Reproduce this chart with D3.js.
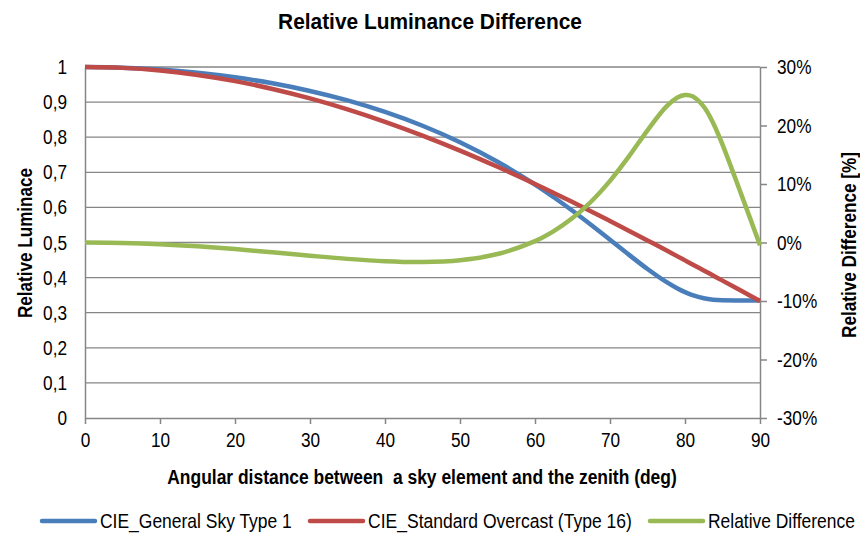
<!DOCTYPE html>
<html><head><meta charset="utf-8">
<script src="https://cdn.jsdelivr.net/npm/d3@7"></script>
<style>
body{margin:0;background:#fff;}
text{font-family:"Liberation Sans",Arial,sans-serif;fill:#000;}
</style></head><body>
<svg id="c" width="860" height="536"></svg>
<script>
const angles = [0,5,10,15,20,25,30,35,40,45,50,55,60,62.5,65,67.5,70,72.5,75,77.5,79,80,81,82.5,83.75,85,87.5,90];
const generalSky = [1,0.9982,0.9929,0.9838,0.9708,0.9536,0.9317,0.9048,0.8720,0.8326,0.7857,0.7301,0.6652,0.6290,0.5905,0.5499,0.5079,0.4655,0.4245,0.3876,0.3690,0.3586,0.3501,0.3411,0.3370,0.3353,0.3349,0.3349];
const overcast = [1,0.9975,0.9899,0.9773,0.9598,0.9375,0.9107,0.8794,0.8440,0.8047,0.7619,0.7157,0.6667,0.6412,0.6151,0.5885,0.5613,0.5338,0.5059,0.4776,0.4605,0.4491,0.4376,0.4204,0.4059,0.3914,0.3624,0.3333];
const relDiff = [0,-0.08,-0.30,-0.66,-1.13,-1.68,-2.26,-2.80,-3.20,-3.34,-3.03,-1.97,0.23,1.94,4.17,7.01,10.53,14.68,19.18,23.22,24.80,25.22,24.99,23.22,20.44,16.74,8.23,-0.46];
const xTicks = [0,10,20,30,40,50,60,70,80,90];
const yTicks = [0,0.1,0.2,0.3,0.4,0.5,0.6,0.7,0.8,0.9,1];
const y2Ticks = [-30,-20,-10,0,10,20,30];
const seriesNames = ["CIE_General Sky Type 1","CIE_Standard Overcast (Type 16)","Relative Difference"];
const colors = ["#4A7EBB","#BE4B48","#98B954"];

const svg = d3.select("#c");
const L=85,R=760,T=67,B=418;
const x = d3.scaleLinear().domain([0,90]).range([L,R]);
const y = d3.scaleLinear().domain([0,1]).range([B,T]);
const y2 = d3.scaleLinear().domain([-30,30]).range([B,T]);
const grid="#868686";
const FS=20.5, NARROW=0.84;
function narrow(sel, factor){
  sel.each(function(){
    const w=this.getComputedTextLength();
    d3.select(this).attr("textLength",w*factor).attr("lengthAdjust","spacingAndGlyphs");
  });
}
function fit(sel, target){
  sel.attr("textLength",target).attr("lengthAdjust","spacingAndGlyphs");
}

// gridlines
svg.append("g").selectAll("line").data(yTicks.slice(1)).join("line")
  .attr("x1",L).attr("x2",R).attr("y1",d=>y(d)).attr("y2",d=>y(d))
  .attr("stroke",grid).attr("stroke-width",1.3);

// x axis
const gx = svg.append("g").attr("transform",`translate(0,${B})`)
  .call(d3.axisBottom(x).tickValues(xTicks).tickSize(6).tickSizeOuter(0).tickPadding(6));
// left axis
const fmtL = d=> d3.format(".1f")(d).replace(".",",").replace(/^1,0$/,"1").replace(/^0,0$/,"0");
const gy = svg.append("g").attr("transform",`translate(${L},0)`)
  .call(d3.axisLeft(y).tickValues(yTicks).tickSize(0).tickPadding(18).tickFormat(fmtL));
// right axis
const gy2 = svg.append("g").attr("transform",`translate(${R},0)`)
  .call(d3.axisRight(y2).tickValues(y2Ticks).tickSize(7).tickSizeOuter(0).tickPadding(10).tickFormat(d=>d+"%"));
[gx,gy,gy2].forEach(g=>{
  g.selectAll("path.domain").attr("stroke",grid).attr("stroke-width",1.5);
  g.selectAll(".tick line").attr("stroke",grid).attr("stroke-width",1.5);
  g.selectAll("text").attr("font-size",FS).attr("fill","#000")
   .style("font-family",'"Liberation Sans",Arial,sans-serif');
  narrow(g.selectAll("text"),NARROW);
});
gx.selectAll("text").attr("dy","0.85em");

// lines
const pts = vals => angles.map((a,i)=>[a,vals[i]]);
const line1 = d3.line().x(d=>x(d[0])).y(d=>y(d[1])).curve(d3.curveCatmullRom.alpha(0.5));
const line2 = d3.line().x(d=>x(d[0])).y(d=>y2(d[1])).curve(d3.curveCatmullRom.alpha(0.5));
svg.append("path").attr("d",line1(pts(generalSky))).attr("fill","none").attr("stroke",colors[0]).attr("stroke-width",4.5).attr("stroke-linejoin","round");
svg.append("path").attr("d",line1(pts(overcast))).attr("fill","none").attr("stroke",colors[1]).attr("stroke-width",4.5).attr("stroke-linejoin","round");
svg.append("path").attr("d",line2(pts(relDiff))).attr("fill","none").attr("stroke",colors[2]).attr("stroke-width",4.5).attr("stroke-linejoin","round");

// scaled text helper (transform-based horizontal compression)
function scaledText(px, py, str, size, target, anchor, weight, rotate){
  const g = svg.append("g");
  const t = g.append("text").attr("font-size",size).attr("font-weight",weight||"normal")
    .attr("text-anchor",anchor||"start").attr("xml:space","preserve").text(str);
  const w = t.node().getComputedTextLength();
  const s = target/w;
  g.attr("transform",`translate(${px},${py})${rotate?` rotate(${rotate})`:""} scale(${s},1)`);
  return t;
}

// titles
scaledText(430,29,"Relative Luminance Difference",22,304,"middle","bold");
scaledText(422,484,"Angular distance between  a sky element and the zenith (deg)",FS,510,"middle","bold");
scaledText(32,243,"Relative Luminace",FS,150,"middle","bold",-90);
scaledText(856,245,"Relative Difference [%]",FS,186,"middle","bold",-90);

// legend
const legLine=[42,310,650], legText=[[100,192],[368,264],[708,147]];
seriesNames.forEach((n,i)=>{
  svg.append("line").attr("x1",legLine[i]).attr("x2",legLine[i]+53).attr("y1",521).attr("y2",521)
    .attr("stroke",colors[i]).attr("stroke-width",4.5).attr("stroke-linecap","round");
  scaledText(legText[i][0],528,n,FS,legText[i][1],"start");
});
</script></body></html>
